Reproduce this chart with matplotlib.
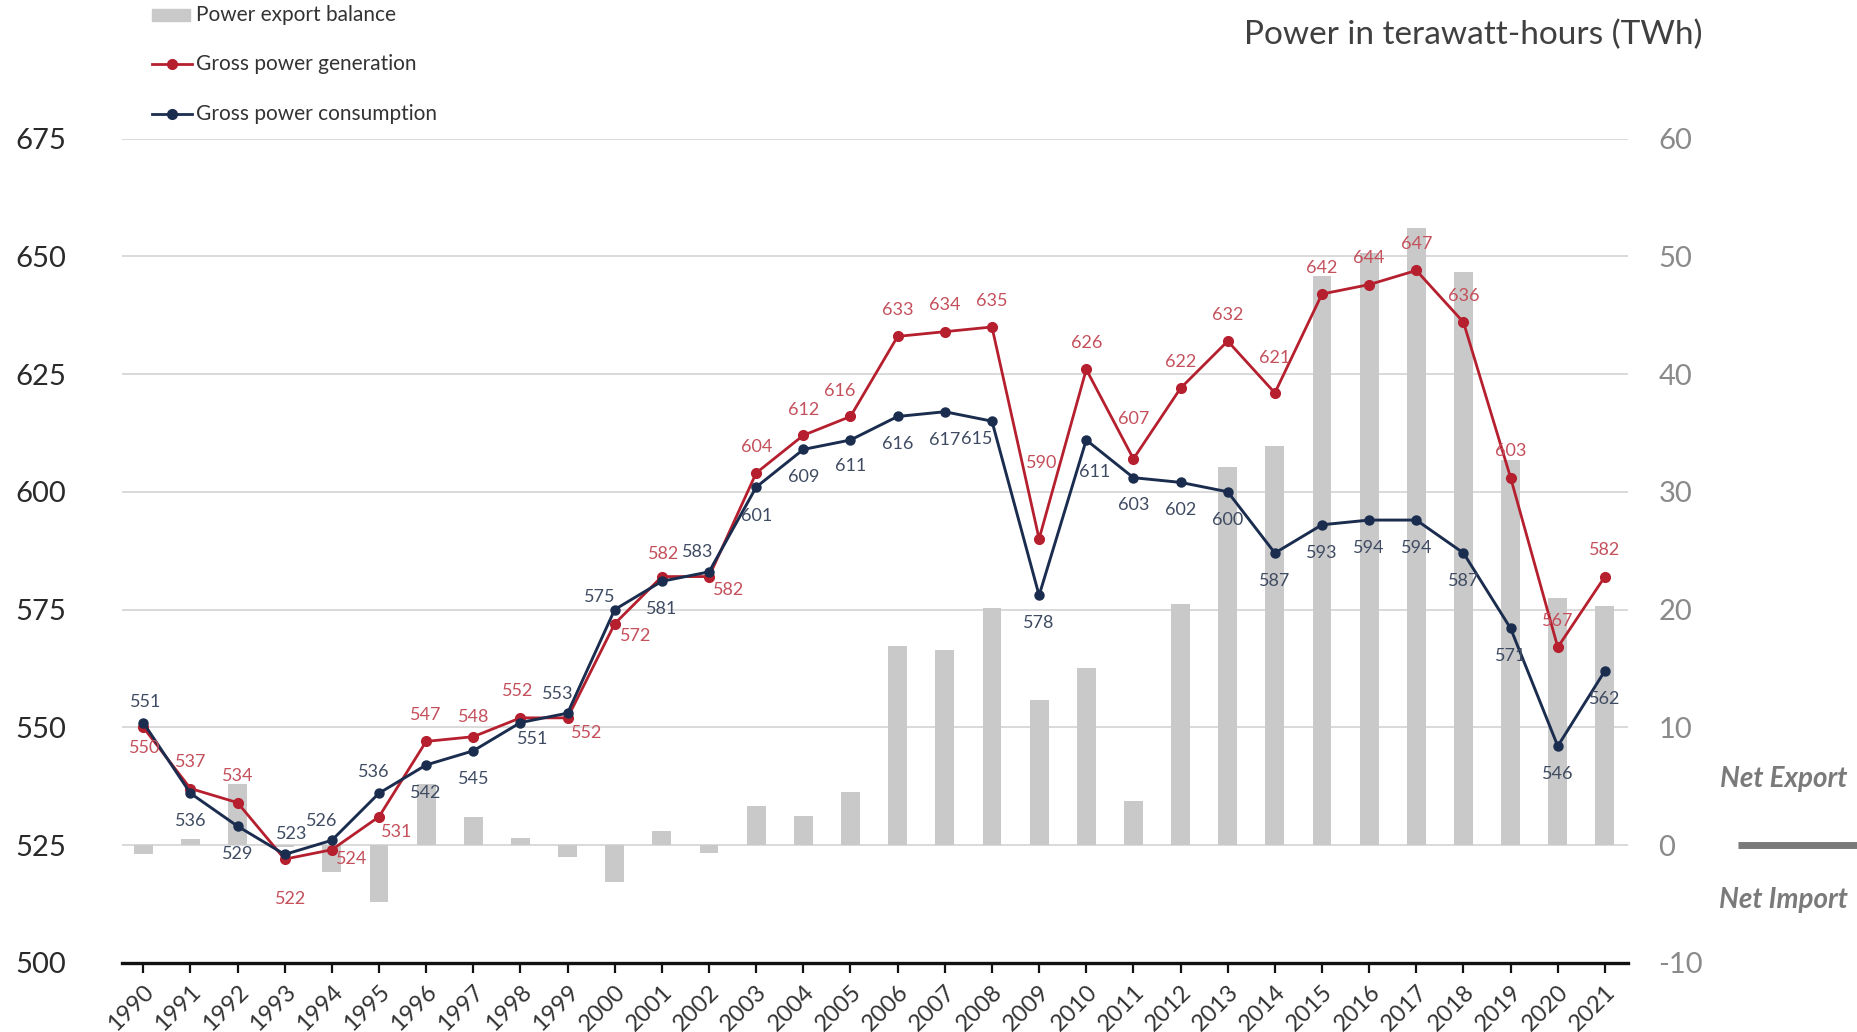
import matplotlib
matplotlib.use("Agg")
import matplotlib.pyplot as plt
import matplotlib.transforms as mtransforms
from matplotlib.lines import Line2D
from matplotlib.patches import Rectangle

plt.rcParams["font.family"] = ["Lato", "DejaVu Sans"]
plt.rcParams["axes.unicode_minus"] = False

# ---- data (TWh) ----
years = [str(y) for y in range(1990, 2022)]
export_balance = [-0.8, 0.5, 5.2, -0.2, -2.3, -4.8, 5.2, 2.4, 0.6, -1.0,
                  -3.1, 1.2, -0.65, 3.3, 2.5, 4.5, 16.9, 16.6, 20.1, 12.3,
                  15.0, 3.7, 20.5, 32.1, 33.9, 48.3, 50.3, 52.4, 48.7, 32.7,
                  21.0, 20.3]
generation = [550, 537, 534, 522, 524, 531, 547, 548, 552, 552,
              572, 582, 582, 604, 612, 616, 633, 634, 635, 590,
              626, 607, 622, 632, 621, 642, 644, 647, 636, 603,
              567, 582]
consumption = [551, 536, 529, 523, 526, 536, 542, 545, 551, 553,
               575, 581, 583, 601, 609, 611, 616, 617, 615, 578,
               611, 603, 602, 600, 587, 593, 594, 594, 587, 571,
               546, 562]
left_ticks = [500, 525, 550, 575, 600, 625, 650, 675]
right_ticks = [-10, 0, 10, 20, 30, 40, 50, 60]

# label offsets in points (dx, dy) relative to each marker
gen_offsets = [(1, -15), (0, 19), (0, 19), (4, -29), (14, -7), (13, -11),
               (0, 19), (0, 14), (-2, 19), (14, -11), (15, -9), (1, 16),
               (14, -10), (0, 19), (0, 18), (-8, 18), (0, 19), (0, 19),
               (0, 19), (2, 55), (0, 19), (0, 29), (0, 19), (0, 19),
               (0, 25), (0, 19), (0, 19), (0, 19), (0, 19), (0, 19),
               (0, 19), (0, 19)]
con_offsets = [(2, 15), (0, -20), (0, -20), (5, 15), (-7, 14), (-4, 15),
               (0, -20), (0, -20), (9, -12), (-7, 14), (-11, 9), (0, -20),
               (-8, 14), (0, -21), (0, -20), (0, -19), (0, -20), (0, -20),
               (-11, -13), (0, -20), (6, -23), (0, -20), (0, -20), (0, -20),
               (0, -20), (0, -20), (0, -20), (0, -20), (0, -20), (0, -20),
               (0, -20), (0, -20)]

RED = "#b51f2e"
NAVY = "#1b2d4f"
RED_TXT = "#c4505c"
NAVY_TXT = "#3f4b62"
BAR = "#c9c9c9"
GRID = "#d9d9d9"

fig = plt.figure(figsize=(18.57, 10.32), dpi=100)
ax = fig.add_axes([0.0657, 0.0671, 0.8110, 0.7986])   # bars, right scale
axl = ax.twinx()                                     # lines, left scale
axl.set_zorder(ax.get_zorder() + 1)
axl.patch.set_visible(False)

x = list(range(len(years)))

# export balance bars
ax.bar(x, export_balance, width=0.40, color=BAR, zorder=2)
ax.set_ylim(-10, 60)
ax.set_yticks(right_ticks)
ax.yaxis.tick_right()
ax.tick_params(axis="y", length=0, labelsize=21, labelcolor="#8a8a8a", pad=22)
for t in right_ticks[1:]:
    ax.axhline(t, color=GRID, lw=1.4, zorder=1)

# year axis
ax.set_xlim(-0.45, 31.49)
ax.set_xticks(x)
ax.set_xticklabels(years, rotation=45, ha="right", rotation_mode="anchor",
                   fontsize=17, color="#333333")
ax.tick_params(axis="x", direction="out", length=7, width=1.6,
               color="#111111", pad=6)
for s in ("top", "left", "right"):
    ax.spines[s].set_visible(False)
ax.spines["bottom"].set_linewidth(2.4)
ax.spines["bottom"].set_color("#111111")
ax.spines["bottom"].set_zorder(5)

# generation / consumption lines
axl.yaxis.tick_left()
axl.plot(x, generation, color=RED, lw=2.0, marker="o", ms=7, zorder=3)
axl.plot(x, consumption, color=NAVY, lw=2.1, marker="o", ms=6.5, zorder=4)
axl.set_ylim(500, 675)
axl.set_yticks(left_ticks)
axl.tick_params(axis="y", length=0, labelsize=21, labelcolor="#2a2a2a", pad=40)
for s in ("top", "left", "right", "bottom"):
    axl.spines[s].set_visible(False)

for xi, v, (dx, dy) in zip(x, generation, gen_offsets):
    axl.annotate(f"{v}", (xi, v), xytext=(dx, dy), textcoords="offset points",
                 ha="center", va="center", fontsize=13, color=RED_TXT, zorder=6)
for xi, v, (dx, dy) in zip(x, consumption, con_offsets):
    axl.annotate(f"{v}", (xi, v), xytext=(dx, dy), textcoords="offset points",
                 ha="center", va="center", fontsize=13, color=NAVY_TXT, zorder=6)

# title
fig.text(0.917, 0.966, "Power in terawatt-hours (TWh)", ha="right",
         va="center", fontsize=24, color="#404040")

# legend, drawn by hand in figure coordinates
W, H = fig.get_size_inches() * fig.dpi
def fx(px):
    return px / W
def fy(py):
    return 1 - py / H

fig.add_artist(Rectangle((fx(152), fy(21)), fx(190) - fx(152), 12 / H,
                         transform=fig.transFigure, color=BAR))
fig.text(fx(196), fy(15), "Power export balance", va="center", fontsize=15,
         color="#333333")
for yy, col, lab in ((64, RED, "Gross power generation"),
                     (114, NAVY, "Gross power consumption")):
    fig.add_artist(Line2D([fx(152), fx(192)], [fy(yy), fy(yy)],
                          transform=fig.transFigure, color=col, lw=2.0))
    fig.add_artist(Line2D([fx(172)], [fy(yy)], transform=fig.transFigure,
                          color=col, marker="o", ms=7))
    fig.text(fx(196), fy(yy), lab, va="center", fontsize=15, color="#333333")

# net export / net import marker on the right
blend = mtransforms.blended_transform_factory(fig.transFigure, ax.transData)
fig.add_artist(Line2D([0.936, 1.0], [0, 0], transform=blend, color="#7a7a7a",
                      lw=5, solid_capstyle="butt", clip_on=False))
fig.text(0.9606, 0.245, "Net Export", ha="center", va="center", fontsize=20,
         fontweight="bold", fontstyle="italic", color="#7a7a7a")
fig.text(0.9606, 0.128, "Net Import", ha="center", va="center", fontsize=20,
         fontweight="bold", fontstyle="italic", color="#7a7a7a")

fig.savefig("out.png", dpi=100, facecolor="white")
